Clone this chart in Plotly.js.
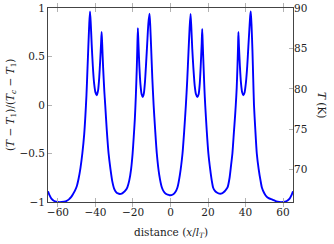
<!DOCTYPE html>
<html>
<head>
<meta charset="utf-8">
<script src="https://cdn.plot.ly/plotly-3.0.1.min.js"></script>
<style>html,body{margin:0;padding:0;background:#fff;}#chart{width:334px;height:244px;}</style>
</head>
<body>
<div id="chart"></div>
<script>
// distance (x / l_T)
const distance = [
  -65.3, -64.5, -63.5, -62, -60, -58, -56, -55, -54, -53, -52, -51, -50, -49, -48, -47, -46,
  -45.4, -44.8, -44.3, -43.8, -43.3, -42.9, -42.5, -42.0, -41.4, -40.7, -40.0, -39.3, -38.6,
  -38.0, -37.5, -37.0, -36.7, -36.4, -35.9, -35.3, -34.8, -34, -33, -32, -31, -30, -29, -28,
  -27, -26, -25, -24, -23, -22, -21, -20.2, -19.6, -19.0, -18.5, -18.0, -17.7, -17.4, -17.1,
  -16.6, -16.0, -15.4, -14.8, -14.2, -13.6, -13.0, -12.4, -11.8, -11.2, -10.8, -10.3, -9.7,
  -9.0, -8.2, -7.3, -6.0, -4.6, -3.5, -2.5, -1.5, -0.5,
  0.5, 1.5, 2.5, 3.7, 5.0, 6.4, 7.3, 8.2, 8.9, 9.6, 10.2, 10.7, 11.1, 11.6, 12.2, 12.9, 13.6,
  14.3, 15.0, 15.6, 16.1, 16.6, 16.9, 17.2, 17.7, 18.1, 18.5, 19.3, 20.2, 21.2, 22.0, 22.7,
  23.7, 24.7, 25.6, 26.5, 27.4, 28.3, 29.3, 30.4, 31.5, 32.3, 33.0, 33.8, 34.4, 34.8, 35.3,
  35.7, 36.0, 36.2, 36.5, 37.0, 37.6, 38.2, 38.8, 39.5, 40.2, 40.9, 41.5, 42.1, 42.5, 42.8,
  43.2, 43.7, 44.1, 44.5, 45.2, 46.0, 47.0, 48.0, 48.7, 50, 51, 52.3, 54.3, 56, 58, 60, 62,
  63.5, 64.5, 65.3
];
// normalised temperature (T - T1)/(Tc - T1)
const normTemp = [
  -0.89, -0.93, -0.965, -0.99, -1.0, -1.0, -0.995, -0.985, -0.97, -0.95, -0.92, -0.885, -0.84, -0.76, -0.65, -0.5, -0.3,
  -0.12, 0.1, 0.35, 0.6, 0.84, 0.965, 0.84, 0.62, 0.4, 0.22, 0.13, 0.1, 0.15,
  0.28, 0.45, 0.64, 0.752, 0.62, 0.38, 0.15, 0.0, -0.25, -0.5, -0.66, -0.79, -0.865, -0.898, -0.912,
  -0.917, -0.913, -0.9, -0.88, -0.848, -0.78, -0.66, -0.5, -0.33, -0.14, 0.08, 0.36, 0.58, 0.793, 0.64,
  0.4, 0.21, 0.11, 0.083, 0.12, 0.24, 0.43, 0.64, 0.84, 0.941, 0.82, 0.58, 0.28,
  0.0, -0.25, -0.5, -0.72, -0.85, -0.895, -0.915, -0.925, -0.93,
  -0.929, -0.92, -0.9, -0.85, -0.72, -0.5, -0.27, 0.0, 0.25, 0.55, 0.8, 0.938, 0.8, 0.58, 0.38, 0.2, 0.11,
  0.081, 0.11, 0.22, 0.4, 0.62, 0.783, 0.62, 0.36, 0.16, 0.0, -0.26, -0.5, -0.67, -0.78, -0.85,
  -0.885, -0.903, -0.912, -0.915, -0.912, -0.9, -0.88, -0.85, -0.75, -0.62, -0.5, -0.28, -0.12, 0.0, 0.18,
  0.4, 0.6, 0.752, 0.6, 0.4, 0.22, 0.13, 0.1, 0.13, 0.23, 0.4, 0.6, 0.8, 0.92, 0.965,
  0.82, 0.55, 0.27, 0.0, -0.25, -0.5, -0.66, -0.78, -0.85, -0.91, -0.94, -0.96, -0.975, -0.99, -1.0, -1.0, -0.99,
  -0.965, -0.93, -0.89
];
const xTicks = [-60, -40, -20, 0, 20, 40, 60];
const yTicks = [-1, -0.5, 0, 0.5, 1];
const yTickLabels = ['\u22121', '\u22120.5', '0', '0.5', '1'];
const tTicks = [70, 75, 80, 85, 90];

const tickFont = {family: 'DejaVu Serif', size: 10.5, color: '#222'};
const titleFont = {family: 'DejaVu Serif', size: 10.5, color: '#222'};

const traces = [
  {x: distance, y: normTemp, type: 'scatter', mode: 'lines',
   line: {color: '#0000ff', width: 1.9, shape: 'spline', smoothing: 0.6},
   hoverinfo: 'skip', showlegend: false},
  {x: [0], y: [80], xaxis: 'x', yaxis: 'y2', type: 'scatter', mode: 'markers',
   marker: {opacity: 0}, hoverinfo: 'skip', showlegend: false}
];

const layout = {
  width: 334, height: 244,
  margin: {l: 48, r: 41, t: 8, b: 42, pad: 0},
  paper_bgcolor: '#fff', plot_bgcolor: '#fff',
  font: tickFont,
  showlegend: false,
  xaxis: {
    range: [-65.3, 65.3], tickvals: xTicks, ticks: 'inside', ticklen: 4, tickcolor: '#b3b3b3',
    tickwidth: 1, showline: true, linecolor: '#444', linewidth: 1, mirror: 'allticks',
    showgrid: false, zeroline: false, tickfont: tickFont
  },
  yaxis: {
    range: [-1, 1], tickvals: yTicks, ticktext: yTickLabels, ticks: 'inside', ticklen: 4,
    tickcolor: '#b3b3b3', tickwidth: 1, showline: true, linecolor: '#444', linewidth: 1,
    mirror: true, showgrid: false, zeroline: false, tickfont: tickFont
  },
  yaxis2: {
    overlaying: 'y', side: 'right', range: [66, 90], tickvals: tTicks, ticks: 'inside',
    ticklen: 4, tickcolor: '#b3b3b3', tickwidth: 1, showline: false, showgrid: false,
    zeroline: false, tickfont: tickFont
  },
  annotations: [
    {text: '(<i>T</i> \u2212 <i>T</i><sub>1</sub>)/(<i>T</i><sub><i>c</i></sub> \u2212 <i>T</i><sub>1</sub>)',
     xref: 'paper', yref: 'paper', x: 0, y: 0.5, xanchor: 'center', yanchor: 'middle',
     xshift: -37, textangle: -90, showarrow: false, font: titleFont},
    {text: 'distance (<i>x</i>/<i>l</i><sub><i>T</i></sub>)',
     xref: 'paper', yref: 'paper', x: 0.5, y: 0, xanchor: 'center', yanchor: 'middle',
     yshift: -31, showarrow: false, font: titleFont},
    {text: '<i>T</i> (K)',
     xref: 'paper', yref: 'paper', x: 1, y: 0.5, xanchor: 'center', yanchor: 'middle',
     xshift: 29, textangle: 90, showarrow: false, font: titleFont}
  ]
};

Plotly.newPlot('chart', traces, layout, {displayModeBar: false, staticPlot: true});
</script>
</body>
</html>
